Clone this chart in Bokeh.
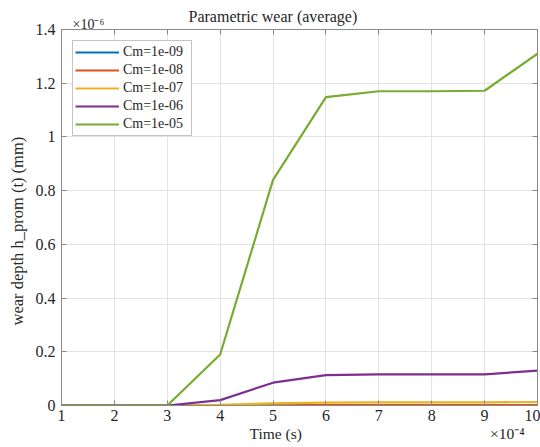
from bokeh.plotting import figure
from bokeh.models import (LinearAxis, FixedTicker, Legend, LegendItem, Title, Range1d)
from bokeh.embed import file_html
from bokeh.resources import INLINE

# ---- data ----
time_ticks = [1, 2, 3, 4, 5, 6, 7, 8, 9, 10]          # ×10^-4 s
time_tick_labels = ["1", "2", "3", "4", "5", "6", "7", "8", "9", "10"]
y_ticks = [0, 0.2, 0.4, 0.6, 0.8, 1, 1.2, 1.4]          # ×10^-6 mm
y_tick_labels = ["0", "0.2", "0.4", "0.6", "0.8", "1", "1.2", "1.4"]

t = [1, 2, 3, 4, 5, 6, 7, 8, 9, 10]
series_names = ["Cm=1e-09", "Cm=1e-08", "Cm=1e-07", "Cm=1e-06", "Cm=1e-05"]
h_cm_1e09 = [0, 0, 0, 0.00002, 0.00008, 0.00011, 0.00012, 0.00012, 0.00012, 0.00013]
h_cm_1e08 = [0, 0, 0, 0.0002, 0.0008, 0.0011, 0.0012, 0.0012, 0.0012, 0.0013]
h_cm_1e07 = [0, 0, 0, 0.002, 0.008, 0.011, 0.0115, 0.0115, 0.0115, 0.013]
h_cm_1e06 = [0, 0, 0, 0.02, 0.085, 0.113, 0.116, 0.116, 0.116, 0.13]
h_cm_1e05 = [0, 0, 0, 0.19, 0.84, 1.148, 1.17, 1.17, 1.172, 1.31]
series_values = [h_cm_1e09, h_cm_1e08, h_cm_1e07, h_cm_1e06, h_cm_1e05]
colors = ["#0072BD", "#D95319", "#EDB120", "#7E2F8E", "#77AC30"]

title_text = "Parametric wear (average)"
x_label = "Time (s)"
y_label = "wear depth h_prom (t) (mm)"
y_exponent = "×10⁻⁶"
x_exponent = "×10⁻⁴"

# layout constants (where the x label and exponent sit along the time axis)
X_LABEL_AT = 5.05
X_EXP_AT = 9.43

FONT = "Liberation Serif"
AXIS_GRAY = "#8a8a8a"
TEXT = "#262626"

p = figure(width=540, height=447, output_backend="svg", toolbar_location=None,
           x_range=Range1d(1, 10), y_range=Range1d(0, 1.4),
           min_border_left=61, min_border_right=3, min_border_top=29, min_border_bottom=42)
p.background_fill_color = "white"
p.border_fill_color = "white"
p.outline_line_color = AXIS_GRAY
p.outline_line_width = 1

renderers = []
for vals, col in zip(series_values, colors):
    r = p.line(t, vals, line_color=col, line_width=2.2)
    renderers.append(r)

def style_axis(ax, ticks, labels, show_labels=True):
    ax.ticker = FixedTicker(ticks=ticks)
    ax.major_label_overrides = dict(zip(ticks, labels))
    ax.axis_line_color = AXIS_GRAY
    ax.major_tick_line_color = AXIS_GRAY
    ax.major_tick_in = 5
    ax.major_tick_out = 0
    ax.minor_tick_line_color = None
    ax.major_label_text_font = FONT
    ax.major_label_text_color = TEXT
    ax.major_label_text_font_size = "16px" if show_labels else "0px"
    ax.major_label_standoff = 4 if show_labels else 0

style_axis(p.xaxis[0], time_ticks, time_tick_labels)
style_axis(p.yaxis[0], y_ticks, y_tick_labels)
p.yaxis[0].major_label_standoff = 6

top_ax = LinearAxis()
right_ax = LinearAxis()
style_axis(top_ax, time_ticks, time_tick_labels, show_labels=False)
style_axis(right_ax, y_ticks, y_tick_labels, show_labels=False)
p.add_layout(top_ax, "above")
p.add_layout(right_ax, "right")

# second row under the time axis: axis name and its exponent
name_ax = LinearAxis(ticker=FixedTicker(ticks=[X_LABEL_AT, X_EXP_AT]),
                     major_label_overrides={X_LABEL_AT: x_label, X_EXP_AT: x_exponent},
                     axis_line_color=None, major_tick_line_color=None, minor_tick_line_color=None,
                     major_tick_in=0, major_tick_out=0, major_label_standoff=1,
                     major_label_text_font=FONT, major_label_text_font_size="15.5px",
                     major_label_text_color=TEXT)
p.add_layout(name_ax, "below")

p.xgrid.ticker = FixedTicker(ticks=time_ticks)
p.ygrid.ticker = FixedTicker(ticks=y_ticks)
p.grid.grid_line_color = "#e3e3e3"
p.grid.grid_line_width = 1

legend = Legend(items=[LegendItem(label=n, renderers=[r]) for n, r in zip(series_names, renderers)],
                location="top_left")
legend.margin = 11
legend.padding = 2
legend.spacing = 0
legend.glyph_width = 44
legend.glyph_height = 18
legend.label_height = 18
legend.label_width = 66
legend.label_standoff = 4
legend.label_text_font = FONT
legend.label_text_font_size = "14px"
legend.label_text_color = TEXT
legend.border_line_color = AXIS_GRAY
legend.border_line_width = 1
legend.background_fill_color = "white"
legend.background_fill_alpha = 1
p.add_layout(legend, "center")

# y axis name as a left-side title (rotated), placed along the axis
ty = Title(text=y_label, align="left", offset=80, standoff=11,
           text_font=FONT, text_font_size="16.5px", text_font_style="normal", text_color=TEXT)
p.add_layout(ty, "left")

# y exponent in the top panel
t6 = Title(text=y_exponent, align="left", offset=11, standoff=-5,
           text_font=FONT, text_font_size="14px", text_font_style="normal", text_color=TEXT)
p.add_layout(t6, "above")

p.title = Title(text=title_text, align="left", offset=127, standoff=-15,
                text_font=FONT, text_font_size="16px", text_font_style="normal",
                text_color=TEXT)

open("out.html", "w").write(file_html(p, INLINE))
